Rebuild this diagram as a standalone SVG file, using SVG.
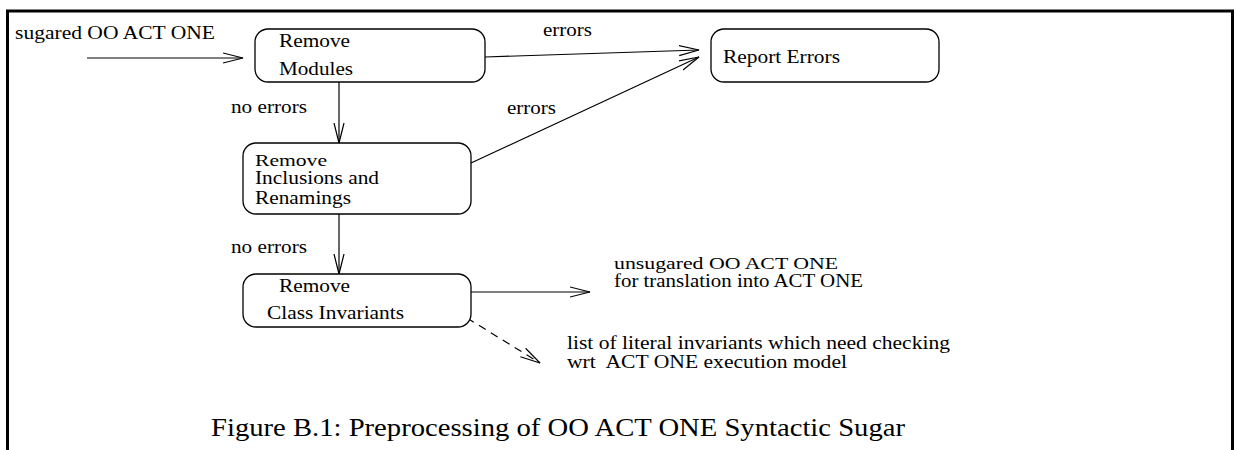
<svg xmlns="http://www.w3.org/2000/svg" width="1237" height="450" viewBox="0 0 1237 450">
<defs>
<style>
text{font-family:"Liberation Serif","Times New Roman",serif;font-size:18px;fill:#000}
.t{font-size:16px}
.box{fill:#fff;stroke:#000;stroke-width:1.3}
.c{fill:none;stroke:#000;stroke-width:1.2}
.cap{font-size:25px}
</style>
<marker id="a" markerWidth="22" markerHeight="12" refX="20" refY="6" orient="auto" markerUnits="userSpaceOnUse"><path d="M0,1 L20,6 L0,11" fill="none" stroke="#000" stroke-width="1.2"/></marker>
</defs>
<rect width="1237" height="450" fill="#fff"/>
<path d="M7.5,450 V11 H1232.5 V450" fill="none" stroke="#000" stroke-width="3"/>
<g id="connectors">
<line class="c" x1="87" y1="58" x2="243" y2="58" marker-end="url(#a)"/>
<line class="c" x1="339" y1="82" x2="339" y2="143" marker-end="url(#a)"/>
<line class="c" x1="485" y1="57" x2="699" y2="50" marker-end="url(#a)"/>
<line class="c" x1="471" y1="163" x2="699" y2="57" marker-end="url(#a)"/>
<line class="c" x1="339" y1="214" x2="339" y2="274" marker-end="url(#a)"/>
<line class="c" x1="471" y1="292" x2="590" y2="292" marker-end="url(#a)"/>
<line class="c" x1="467" y1="318" x2="540" y2="363" stroke-dasharray="8,6" marker-end="url(#a)"/>
</g>
<g id="labels">
<text x="15" y="39" textLength="200" lengthAdjust="spacingAndGlyphs">sugared OO ACT ONE</text>
<text x="231" y="113" textLength="76" lengthAdjust="spacingAndGlyphs">no errors</text>
<text x="543" y="36" textLength="49" lengthAdjust="spacingAndGlyphs">errors</text>
<text x="507" y="114" textLength="49" lengthAdjust="spacingAndGlyphs">errors</text>
<text x="231" y="253" textLength="76" lengthAdjust="spacingAndGlyphs">no errors</text>
<text class="t" x="614" y="269" textLength="224" lengthAdjust="spacingAndGlyphs">unsugared OO ACT ONE</text>
<text x="614" y="287" textLength="249" lengthAdjust="spacingAndGlyphs">for translation into ACT ONE</text>
<text x="567" y="349" textLength="383" lengthAdjust="spacingAndGlyphs">list of literal invariants which need checking</text>
<text x="567" y="368" textLength="280" lengthAdjust="spacingAndGlyphs" xml:space="preserve">wrt  ACT ONE execution model</text>
</g>
<g id="remove-modules">
<rect class="box" x="255" y="29" width="230" height="53" rx="13"/>
<text x="279" y="47" textLength="71" lengthAdjust="spacingAndGlyphs">Remove</text>
<text x="279" y="75" textLength="74" lengthAdjust="spacingAndGlyphs">Modules</text>
</g>
<g id="report-errors">
<rect class="box" x="711" y="29" width="228" height="53" rx="13"/>
<text x="723" y="63" textLength="117" lengthAdjust="spacingAndGlyphs">Report Errors</text>
</g>
<g id="remove-inclusions">
<rect class="box" x="243" y="143" width="228" height="71" rx="13"/>
<text class="t" x="255" y="166" textLength="72" lengthAdjust="spacingAndGlyphs">Remove</text>
<text x="255" y="184" textLength="124" lengthAdjust="spacingAndGlyphs">Inclusions and</text>
<text x="255" y="204" textLength="96" lengthAdjust="spacingAndGlyphs">Renamings</text>
</g>
<g id="remove-invariants">
<rect class="box" x="243" y="274" width="228" height="53" rx="13"/>
<text x="279" y="292" textLength="71" lengthAdjust="spacingAndGlyphs">Remove</text>
<text x="267" y="319" textLength="137" lengthAdjust="spacingAndGlyphs">Class Invariants</text>
</g>
<text class="cap" x="211" y="436" textLength="694" lengthAdjust="spacingAndGlyphs">Figure B.1: Preprocessing of OO ACT ONE Syntactic Sugar</text>
</svg>
